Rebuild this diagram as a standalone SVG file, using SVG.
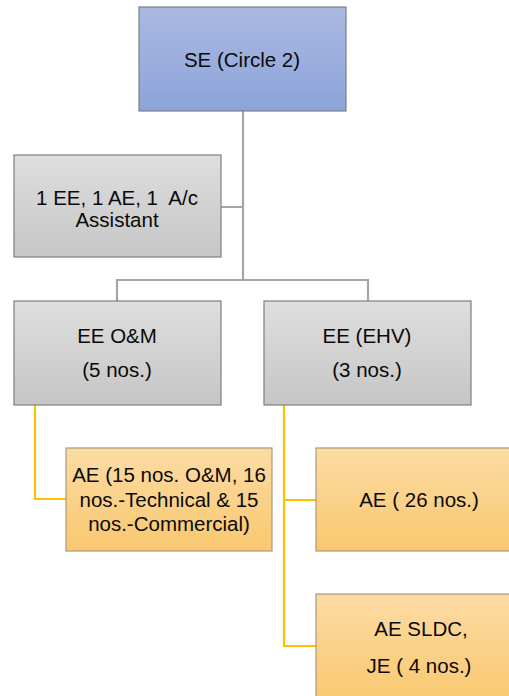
<svg xmlns="http://www.w3.org/2000/svg" width="509" height="696" viewBox="0 0 509 696">
<defs>
<linearGradient id="gBlue" x1="0" y1="0" x2="0" y2="1"><stop offset="0" stop-color="#aab9e2"/><stop offset="1" stop-color="#8da4da"/></linearGradient>
<linearGradient id="gGray" x1="0" y1="0" x2="0" y2="1"><stop offset="0" stop-color="#dedede"/><stop offset="1" stop-color="#c6c6c6"/></linearGradient>
<linearGradient id="gOrange" x1="0" y1="0" x2="0" y2="1"><stop offset="0" stop-color="#fcdba4"/><stop offset="1" stop-color="#f9c86f"/></linearGradient>
</defs>
<style>
.box{stroke:#7f7f7f;stroke-width:1.2}
.blue{fill:url(#gBlue)}
.gray{fill:url(#gGray)}
.orange{fill:url(#gOrange);stroke:#a89a7e}
text{font-family:"Liberation Sans",Arial,sans-serif;font-size:20.5px;fill:#0a0a0a;text-anchor:middle;white-space:pre}
.gc{stroke:#a5a5a5;stroke-width:2.2;fill:none}
.yc{stroke:#ffc000;stroke-width:2.2;fill:none}
</style>
<g id="connectors">
<path class="gc" d="M243 111 V280 M221 207 H243 M117 301 V280 H368 V301"/>
<path class="yc" d="M35 405 V499 H66 M284 405 V646 H316 M284 500 H316"/>
</g>
<g id="se"><rect class="box blue" x="139" y="7" width="207" height="104"/><text x="242" y="67">SE (Circle 2)</text></g>
<g id="staff"><rect class="box gray" x="14" y="155" width="207" height="102"/><text x="117" y="205" xml:space="preserve">1 EE, 1 AE, 1  A/c</text><text x="117" y="227">Assistant</text></g>
<g id="ee-om"><rect class="box gray" x="14" y="301" width="207" height="104"/><text x="117" y="343">EE O&amp;M</text><text x="117" y="377">(5 nos.)</text></g>
<g id="ee-ehv"><rect class="box gray" x="264" y="301" width="207" height="104"/><text x="367" y="343">EE (EHV)</text><text x="367" y="377">(3 nos.)</text></g>
<g id="ae-om"><rect class="box orange" x="66" y="448" width="206" height="103"/><text x="169" y="482">AE (15 nos. O&amp;M, 16</text><text x="169" y="507">nos.-Technical &amp; 15</text><text x="169" y="531">nos.-Commercial)</text></g>
<g id="ae-26"><rect class="box orange" x="316" y="448" width="207" height="103"/><text x="419" y="507">AE ( 26 nos.)</text></g>
<g id="ae-sldc"><rect class="box orange" x="316" y="594" width="207" height="110"/><text x="421" y="636">AE SLDC,</text><text x="419" y="673">JE ( 4 nos.)</text></g>
</svg>
